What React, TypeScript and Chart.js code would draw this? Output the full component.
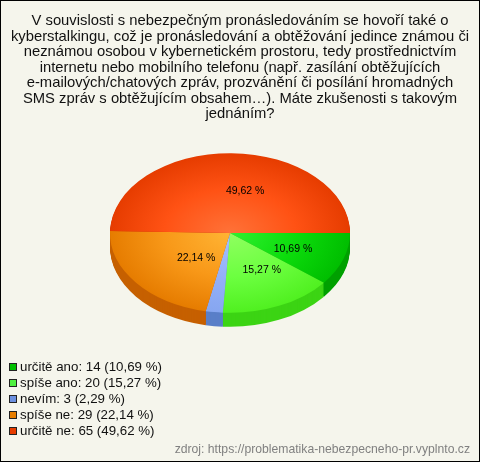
import React, { useEffect, useRef } from "react";
import { Chart, registerables } from "chart.js";

Chart.register(...registerables);

const categories = ["určitě ano", "spíše ano", "nevím", "spíše ne", "určitě ne"];
const counts = [14, 20, 3, 29, 65];
const percents = ["10,69", "15,27", "2,29", "22,14", "49,62"];
const titleLines = [
  "V souvislosti s nebezpečným pronásledováním se hovoří také o",
  "kyberstalkingu, což je pronásledování a obtěžování jedince známou či",
  "neznámou osobou v kybernetickém prostoru, tedy prostřednictvím",
  "internetu nebo mobilního telefonu (např. zasílání obtěžujících",
  "e-mailových/chatových zpráv, prozvánění či posílání hromadných",
  "SMS zpráv s obtěžujícím obsahem…). Máte zkušenosti s takovým",
  "jednáním?",
];
const source = "zdroj: https://problematika-nebezpecneho-pr.vyplnto.cz";

const innerColors = ["#30F030", "#90FF60", "#A4C0FF", "#FFB434", "#FF7238"];
const midColors = ["#0CDC0C", "#6CFF40", "#94B0F8", "#F89818", "#FF5214"];
const outerColors = ["#00BE00", "#50F020", "#86A6F0", "#E67C00", "#E63C00"];
const wallColors = ["#00A000", "#3CD414", "#5A7FC8", "#C66000", "#C43000"];
const legendColors = ["#00C000", "#50F040", "#6C90E0", "#E87E00", "#E63C00"];
const labelFractions: [number, number][] = [
  [0.556, 0.577],
  [0.65, 0.5],
  [0.6, 0.6],
  [0.36, 0.49],
  [0.125, 0.54],
];

const FLAT = 0.665;
const DEPTH = 14;
const FONT = "'Liberation Sans', Arial, sans-serif";

const piePlugin = {
  id: "pie3d",
  beforeDraw(chart: any) {
    const { ctx, width, height } = chart;
    ctx.save();
    ctx.fillStyle = "#F5F5EC";
    ctx.fillRect(0, 0, width, height);
    ctx.strokeStyle = "#000";
    ctx.lineWidth = 2;
    ctx.strokeRect(0, 0, width, height);
    ctx.restore();
  },
  afterLayout(chart: any) {
    const boxes = chart.boxes.filter((b: any) => b.options && b.options.text);
    boxes.forEach((b: any) => {
      if (b.options.position === "top") {
        b.left = 0;
        b.right = 480;
      } else {
        b.left = 0;
        b.right = 470;
      }
    });
  },
  beforeDatasetsDraw(chart: any) {
    const { ctx } = chart;
    const arcs = chart.getDatasetMeta(0).data;
    const cy = arcs[0].y;
    for (let d = DEPTH; d >= 1; d--) {
      arcs.forEach((arc: any, i: number) => {
        ctx.save();
        ctx.translate(0, cy + d);
        ctx.scale(1, FLAT);
        ctx.translate(0, -cy);
        ctx.beginPath();
        ctx.moveTo(arc.x, arc.y);
        ctx.arc(arc.x, arc.y, arc.outerRadius, arc.startAngle, arc.endAngle);
        ctx.closePath();
        ctx.fillStyle = wallColors[i];
        ctx.fill();
        ctx.restore();
      });
    }
    ctx.save();
    ctx.translate(0, cy);
    ctx.scale(1, FLAT);
    ctx.translate(0, -cy);
  },
  afterDatasetsDraw(chart: any) {
    const { ctx } = chart;
    ctx.restore();
    const arcs = chart.getDatasetMeta(0).data;
    ctx.save();
    ctx.font = `10.5px ${FONT}`;
    ctx.fillStyle = "#000";
    ctx.textAlign = "center";
    ctx.textBaseline = "middle";
    arcs.forEach((arc: any, i: number) => {
      if (i === 2) return;
      const mid = (arc.startAngle + arc.endAngle) / 2;
      const [fx, fy] = labelFractions[i];
      const x = arc.x + Math.cos(mid) * arc.outerRadius * fx + (i === 4 ? 15 : 0);
      const y = arc.y + Math.sin(mid) * arc.outerRadius * FLAT * fy + 1;
      ctx.fillText(`${percents[i]} %`, x, y);
    });
    // legend
    ctx.textAlign = "left";
    ctx.font = `13.3px ${FONT}`;
    categories.forEach((c, i) => {
      const rowY = 367 + i * 16;
      ctx.fillStyle = legendColors[i];
      ctx.fillRect(9, rowY - 4, 8, 8);
      ctx.strokeStyle = "#222";
      ctx.lineWidth = 1;
      ctx.strokeRect(9.5, rowY - 3.5, 7, 7);
      ctx.fillStyle = "#111";
      ctx.fillText(`${c}: ${counts[i]} (${percents[i]} %)`, 20, rowY);
    });
    ctx.restore();
  },
};

export default function App() {
  const ref = useRef<HTMLCanvasElement>(null);
  useEffect(() => {
    const canvas = ref.current!;
    const gradient = (c: any) => {
      const area = c.chart.chartArea;
      const i = c.dataIndex;
      if (!area) return outerColors[i];
      const x = (area.left + area.right) / 2;
      const y = (area.top + area.bottom) / 2;
      const g = c.chart.ctx.createRadialGradient(x, y, 0, x, y, 120);
      g.addColorStop(0, innerColors[i]);
      g.addColorStop(0.55, midColors[i]);
      g.addColorStop(1, outerColors[i]);
      return g;
    };
    const chart = new Chart(canvas, {
      type: "pie",
      data: {
        labels: categories,
        datasets: [
          {
            data: counts,
            backgroundColor: gradient,
            borderWidth: 0,
            hoverOffset: 0,
            clip: false,
          } as any,
        ],
      },
      options: {
        responsive: false,
        animation: false,
        rotation: 90,
        radius: 120,
        layout: { padding: { left: 0, right: 20, top: 0, bottom: 0 } },
        plugins: {
          legend: { display: false },
          tooltip: { enabled: false },
          title: {
            display: true,
            text: titleLines,
            color: "#111",
            font: { family: FONT, size: 14.8, weight: "normal", lineHeight: 1.044 },
            padding: { top: 13.5, bottom: 0 },
          },
          subtitle: {
            display: true,
            position: "bottom",
            align: "end",
            text: source,
            color: "#808080",
            font: { family: FONT, size: 12.2, weight: "normal", lineHeight: 1 },
            padding: { top: 99.5, bottom: 6 },
          },
        },
      } as any,
      plugins: [piePlugin as any],
    });
    return () => chart.destroy();
  }, []);
  return (
    <div style={{ position: "absolute", left: 0, top: 0, width: 480, height: 462 }}>
      <canvas ref={ref} width={480} height={462} style={{ display: "block" }} />
    </div>
  );
}
